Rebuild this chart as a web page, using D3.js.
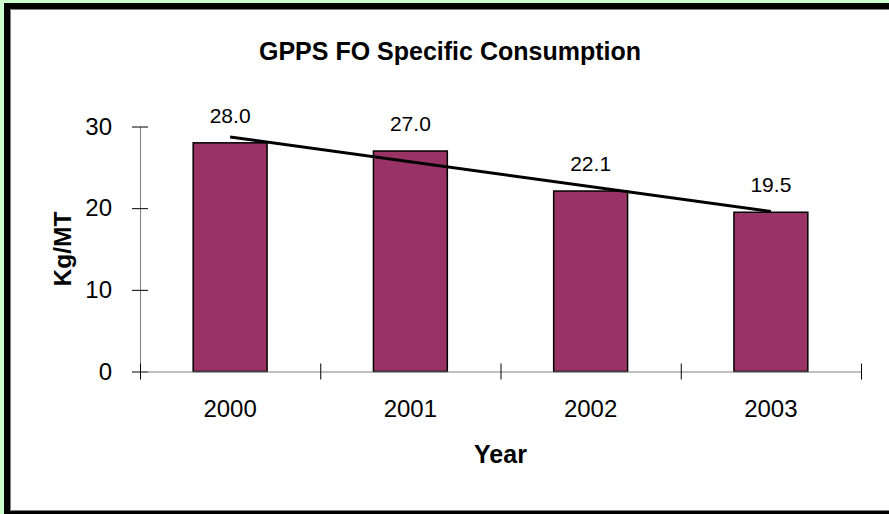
<!DOCTYPE html>
<html>
<head>
<meta charset="utf-8">
<script src="https://cdn.jsdelivr.net/npm/d3@7"></script>
<style>
html,body{margin:0;padding:0;background:#fff;}
svg{display:block;}
text{font-family:Arial,"Liberation Sans",sans-serif;fill:#000;}
</style>
</head>
<body>
<svg id="chart" width="889" height="514"></svg>
<script>
const years = ["2000", "2001", "2002", "2003"];
const values = [28.0, 27.0, 22.1, 19.5];
const valueLabels = ["28.0", "27.0", "22.1", "19.5"];
const yTicks = [0, 10, 20, 30];
const title = "GPPS FO Specific Consumption";
const xTitle = "Year";
const yTitle = "Kg/MT";

(function(){
const svg = d3.select("#chart");

// frame
svg.append("rect").attr("x",0).attr("y",0).attr("width",889).attr("height",514).attr("fill","#ccffcc");
svg.append("rect").attr("x",4).attr("y",3).attr("width",900).attr("height",520).attr("fill","#000");
svg.append("rect").attr("x",10.5).attr("y",9.5).attr("width",890).attr("height",501)
  .attr("fill","#fff").attr("stroke","#808080").attr("stroke-width",1);

const pL = 140, pR = 861, pT = 126.5, pB = 371.5;
const y = d3.scaleLinear().domain([0,30]).range([pB, pT]);
const x = d3.scaleBand().domain(years).range([pL, pR]).paddingInner(0.59).paddingOuter(0.295);
const xb = d3.scaleLinear().domain([0, years.length]).range([pL, pR]);

// bars
svg.append("g").selectAll("rect").data(years).join("rect")
  .attr("x", d => x(d))
  .attr("y", (d,i) => y(values[i]))
  .attr("width", x.bandwidth())
  .attr("height", (d,i) => y(0) - y(values[i]))
  .attr("fill", "#993366")
  .attr("stroke", "#000")
  .attr("stroke-width", 1.5);

// y axis
const ya = svg.append("g").attr("transform", `translate(${pL},0)`)
  .call(d3.axisLeft(y).tickValues(yTicks).tickSize(8).tickSizeOuter(0).tickPadding(20));
ya.select(".domain").attr("stroke","#808080");
ya.selectAll(".tick line").attr("x1", 8).attr("x2", -8).attr("stroke","#000");
ya.selectAll(".tick text").attr("font-size", 24).attr("font-family","Arial, 'Liberation Sans', sans-serif")
  .attr("dy","0.32em").attr("fill","#000");

// x axis
const xa = svg.append("g").attr("transform", `translate(0,${pB})`)
  .call(d3.axisBottom(xb).tickValues(d3.range(years.length+1)).tickSize(8).tickSizeOuter(0).tickFormat(""));
xa.select(".domain").attr("stroke","#808080");
xa.selectAll(".tick line").attr("y1", -8).attr("y2", 8).attr("stroke","#000");

// x labels
svg.append("g").selectAll("text").data(years).join("text")
  .attr("x", d => x(d) + x.bandwidth()/2)
  .attr("y", 417)
  .attr("text-anchor","middle")
  .attr("font-size", 24)
  .text(d => d);

// trend line (linear least squares)
const n = values.length;
const mx = d3.mean(d3.range(n)), my = d3.mean(values);
const slope = d3.sum(values.map((v,i)=>(i-mx)*(v-my))) / d3.sum(d3.range(n).map(i=>(i-mx)*(i-mx)));
const icpt = my - slope*mx;
const cx = i => x(years[i]) + x.bandwidth()/2;
svg.append("line")
  .attr("x1", cx(0)).attr("y1", y(icpt))
  .attr("x2", cx(n-1)).attr("y2", y(icpt + slope*(n-1)))
  .attr("stroke","#000").attr("stroke-width",3);

// value labels
svg.append("g").selectAll("text").data(years).join("text")
  .attr("x", d => x(d) + x.bandwidth()/2)
  .attr("y", (d,i) => y(values[i]) - 20)
  .attr("text-anchor","middle")
  .attr("font-size", 21)
  .text((d,i) => valueLabels[i]);

// titles
svg.append("text").attr("x", 450).attr("y", 60).attr("text-anchor","middle")
  .attr("font-size", 25).attr("font-weight","bold").text(title);
svg.append("text").attr("x", (pL+pR)/2).attr("y", 463).attr("text-anchor","middle")
  .attr("font-size", 25).attr("font-weight","bold").text(xTitle);
svg.append("text").attr("transform", `translate(71,${(pT+pB)/2}) rotate(-90)`)
  .attr("text-anchor","middle")
  .attr("font-size", 24.5).attr("font-weight","bold").text(yTitle);
})();
</script>
</body>
</html>
